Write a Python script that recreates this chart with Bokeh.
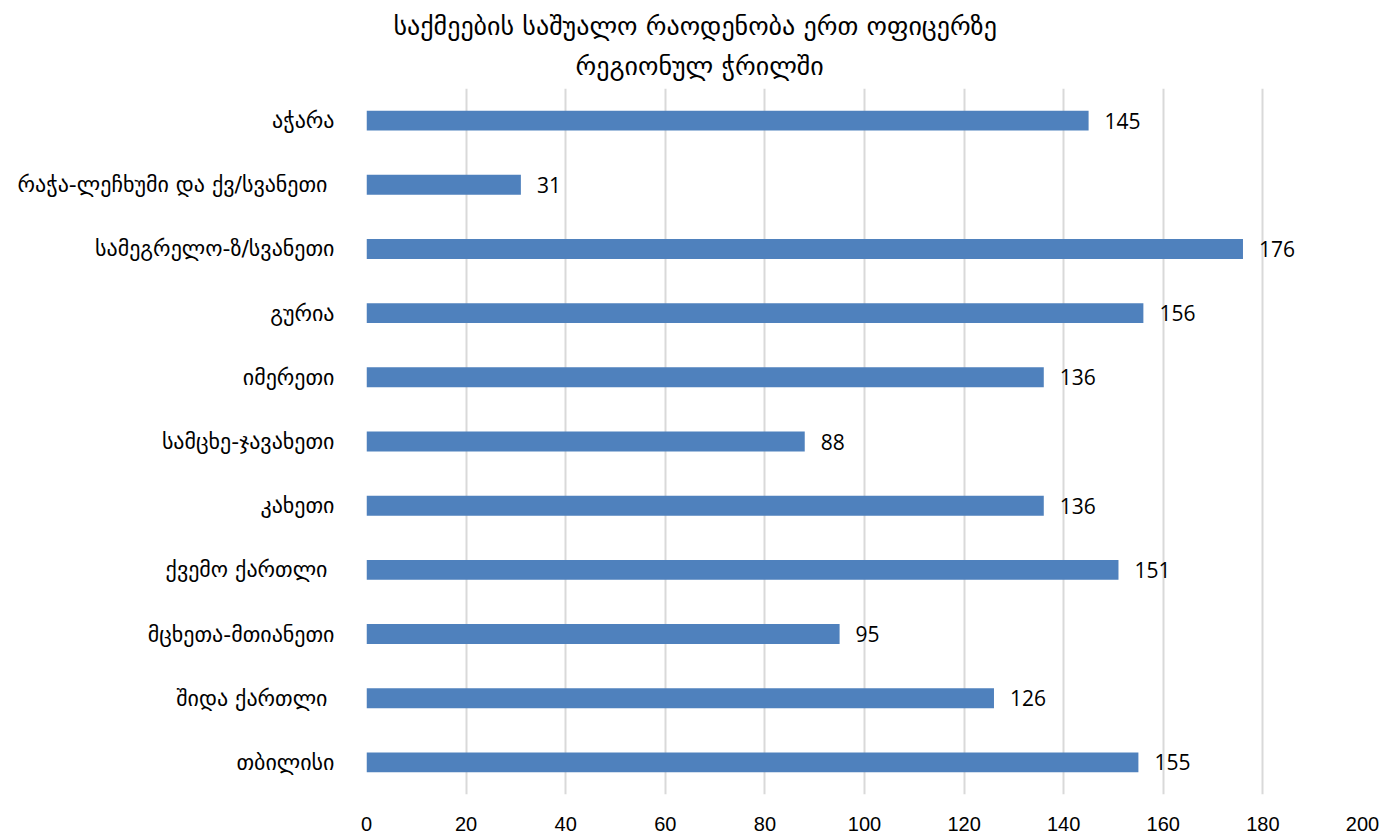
from bokeh.plotting import figure
from bokeh.models import ColumnDataSource, FactorRange, Range1d, FixedTicker, LabelSet, Title
from bokeh.embed import file_html
from bokeh.resources import INLINE
from bokeh.core.properties import value

categories = [
    "აჭარა",
    "რაჭა-ლეჩხუმი და  ქვ/სვანეთი",
    "სამეგრელო-ზ/სვანეთი",
    "გურია",
    "იმერეთი",
    "სამცხე-ჯავახეთი",
    "კახეთი",
    "ქვემო  ქართლი",
    "მცხეთა-მთიანეთი",
    "შიდა  ქართლი",
    "თბილისი",
]
values = [145, 31, 176, 156, 136, 88, 136, 151, 95, 126, 155]
x_ticks = [0, 20, 40, 60, 80, 100, 120, 140, 160, 180, 200]
title_lines = ["საქმეების საშუალო რაოდენობა ერთ ოფიცერზე", "რეგიონულ ჭრილში"]

src = ColumnDataSource(dict(cat=categories, val=values, lab=[str(v) for v in values]))

p = figure(
    width=1397, height=837,
    y_range=FactorRange(factors=list(reversed(categories))),
    x_range=Range1d(0, 200),
    output_backend="svg", toolbar_location=None,
    min_border_left=366, min_border_right=35, min_border_top=88, min_border_bottom=43,
)

p.hbar(y="cat", right="val", left=0, height=0.31, source=src, color="#4f81bd", line_color=None)

labels = LabelSet(x="val", y="cat", text="lab", source=src, x_offset=16,
                  text_baseline="middle", text_align="left",
                  text_font=value("Open Sans"), text_font_size="21px", text_color="#000000")
p.add_layout(labels)

# two-line title: second line added first (closest to the frame)
p.add_layout(Title(text=title_lines[1], align="left", offset=209, standoff=16,
                   text_font="DejaVu Sans", text_font_size="26px", text_font_style="normal",
                   text_color="#000000"), "above")
p.add_layout(Title(text=title_lines[0], align="left", offset=27, standoff=0,
                   text_font="DejaVu Sans", text_font_size="26px", text_font_style="normal",
                   text_color="#000000"), "above")

p.xaxis.ticker = FixedTicker(ticks=x_ticks)
p.xaxis.axis_line_color = None
p.xaxis.major_tick_line_color = None
p.xaxis.minor_tick_line_color = None
p.xaxis.major_label_standoff = 16
p.xaxis.major_label_text_font = "Liberation Sans"
p.xaxis.major_label_text_font_size = "20px"
p.xaxis.major_label_text_color = "#000000"

p.yaxis.axis_line_color = None
p.yaxis.major_tick_line_color = None
p.yaxis.minor_tick_line_color = None
p.yaxis.major_label_standoff = 26
p.yaxis.major_label_text_font = "DejaVu Sans"
p.yaxis.major_label_text_font_size = "22px"
p.yaxis.major_label_text_color = "#000000"

p.xgrid.grid_line_color = "#d9d9d9"
p.xgrid.grid_line_width = 2
p.ygrid.grid_line_color = None
p.outline_line_color = None
p.background_fill_color = "white"
p.border_fill_color = "white"

open("out.html", "w").write(file_html(p, INLINE))
